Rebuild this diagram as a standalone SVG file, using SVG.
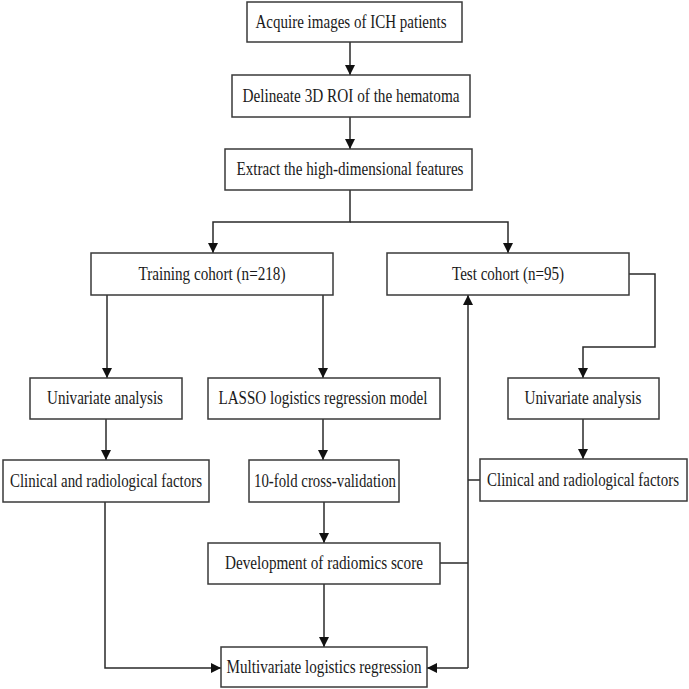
<svg xmlns="http://www.w3.org/2000/svg" width="689" height="689" viewBox="0 0 689 689">
<style>
.box{fill:#fff;stroke:#3a3a3a;stroke-width:1.5}
.lbl{font-family:"Liberation Serif","Times New Roman",serif;font-size:18px;fill:#1a1a1a;text-anchor:middle}
.c{fill:none;stroke:#2a2a2a;stroke-width:1.5}
.a{marker-end:url(#ah)}
</style>
<defs>
<marker id="ah" markerUnits="userSpaceOnUse" markerWidth="10" markerHeight="10" refX="10" refY="5" orient="auto">
<path d="M0,0 L10,5 L0,10 z" fill="#111"/>
</marker>
</defs>
<rect width="689" height="689" fill="#fff"/>
<g id="connectors">
<path class="c a" d="M350,42 V75"/>
<path class="c a" d="M350,117 V149"/>
<path class="c a" d="M350,190 V222 H213 V253"/>
<path class="c a" d="M350,222 H508 V253"/>
<path class="c a" d="M107,295 V378"/>
<path class="c a" d="M323,295 V378"/>
<path class="c a" d="M106,419 V460"/>
<path class="c a" d="M323,419 V460"/>
<path class="c a" d="M324,502 V543"/>
<path class="c a" d="M324,584 V647"/>
<path class="c a" d="M105,502 V668 H221"/>
<path class="c" d="M440,563 H468"/>
<path class="c" d="M468,480 H480"/>
<path class="c a" d="M468,668 V295"/>
<path class="c a" d="M468,668 H427"/>
<path class="c a" d="M629,274 H655 V347 H583 V378"/>
<path class="c a" d="M583,419 V459"/>
</g>
<g id="acquire"><rect class="box" x="247" y="2" width="215" height="40"/><text class="lbl" x="351" y="28" textLength="191" lengthAdjust="spacingAndGlyphs">Acquire images of ICH patients</text></g>
<g id="delineate"><rect class="box" x="232" y="75" width="238" height="42"/><text class="lbl" x="351" y="102" textLength="217" lengthAdjust="spacingAndGlyphs">Delineate 3D ROI of the hematoma</text></g>
<g id="extract"><rect class="box" x="225" y="149" width="247" height="41"/><text class="lbl" x="350" y="175" textLength="227" lengthAdjust="spacingAndGlyphs">Extract the high-dimensional features</text></g>
<g id="training"><rect class="box" x="91" y="253" width="242" height="42"/><text class="lbl" x="212" y="280" textLength="147" lengthAdjust="spacingAndGlyphs">Training cohort (n=218)</text></g>
<g id="test"><rect class="box" x="387" y="253" width="242" height="42"/><text class="lbl" x="508" y="280" textLength="112" lengthAdjust="spacingAndGlyphs">Test cohort (n=95)</text></g>
<g id="univariate-train"><rect class="box" x="30" y="378" width="152" height="41"/><text class="lbl" x="105" y="404" textLength="116" lengthAdjust="spacingAndGlyphs">Univariate analysis</text></g>
<g id="lasso"><rect class="box" x="208" y="378" width="232" height="41"/><text class="lbl" x="323" y="404" textLength="209" lengthAdjust="spacingAndGlyphs">LASSO logistics regression model</text></g>
<g id="univariate-test"><rect class="box" x="508" y="378" width="151" height="41"/><text class="lbl" x="583" y="404" textLength="117" lengthAdjust="spacingAndGlyphs">Univariate analysis</text></g>
<g id="clinical-train"><rect class="box" x="3" y="460" width="206" height="42"/><text class="lbl" x="106" y="487" textLength="192" lengthAdjust="spacingAndGlyphs">Clinical and radiological factors</text></g>
<g id="cv"><rect class="box" x="249" y="460" width="150" height="42"/><text class="lbl" x="325" y="487" textLength="142" lengthAdjust="spacingAndGlyphs">10-fold cross-validation</text></g>
<g id="clinical-test"><rect class="box" x="480" y="459" width="207" height="42"/><text class="lbl" transform="translate(583,486) scale(0.83,1)" x="0" y="0">Clinical and radiological factors</text></g>
<g id="radscore"><rect class="box" x="208" y="543" width="232" height="41"/><text class="lbl" x="324" y="569" textLength="198" lengthAdjust="spacingAndGlyphs">Development of radiomics score</text></g>
<g id="multivariate"><rect class="box" x="221" y="647" width="206" height="40"/><text class="lbl" x="324" y="673" textLength="195" lengthAdjust="spacingAndGlyphs">Multivariate logistics regression</text></g>
</svg>
